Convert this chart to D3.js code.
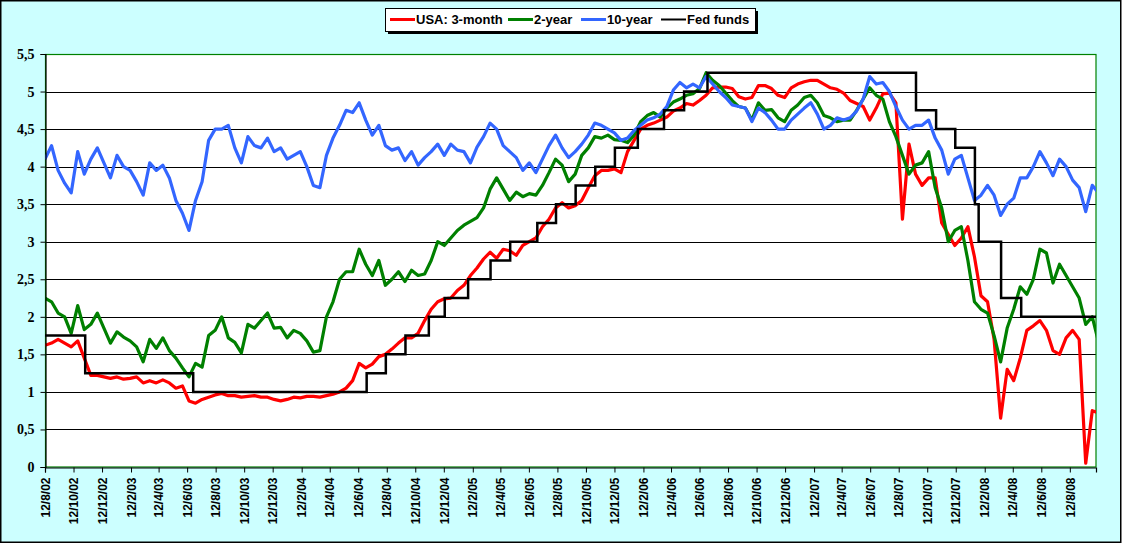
<!DOCTYPE html>
<html>
<head>
<meta charset="utf-8">
<title>USA interest rates</title>
<script src="https://cdnjs.cloudflare.com/ajax/libs/d3/7.8.5/d3.min.js"></script>
<style>
body{ margin:0; padding:0; background:#fff; }
svg{ display:block; }
</style>
</head>
<body>
<div id="chart"></div>
<script>
// samples every 14 days from 12/8/02
var startDate = new Date(2002, 7, 12), endDate = new Date(2008, 9, 7);
var usa3m = [1.62,1.65,1.7,1.65,1.6,1.68,1.45,1.22,1.22,1.2,1.18,1.2,1.17,1.18,1.2,1.12,1.15,1.12,1.16,1.12,
  1.05,1.08,0.88,0.85,0.9,0.93,0.96,0.98,0.95,0.95,0.93,0.94,0.95,0.93,0.93,0.9,0.88,0.9,0.93,0.92,
  0.94,0.94,0.93,0.95,0.97,1.0,1.05,1.15,1.38,1.32,1.37,1.47,1.5,1.57,1.65,1.72,1.72,1.78,1.95,2.1,
  2.2,2.24,2.25,2.35,2.42,2.55,2.65,2.77,2.86,2.78,2.9,2.88,2.82,2.95,3.0,3.05,3.2,3.3,3.45,3.52,
  3.45,3.48,3.55,3.72,3.88,3.95,3.95,3.97,3.92,4.2,4.35,4.5,4.55,4.58,4.62,4.66,4.74,4.78,4.84,4.82,
  4.88,4.95,5.05,5.06,5.06,5.04,4.93,4.9,4.92,5.08,5.08,5.04,4.95,4.92,5.05,5.1,5.13,5.15,5.15,5.1,
  5.05,5.03,4.98,4.88,4.84,4.8,4.62,4.78,4.97,4.98,4.85,3.3,4.3,3.9,3.75,3.85,3.85,3.25,3.1,2.95,
  3.05,3.2,2.8,2.28,2.2,1.7,0.65,1.3,1.15,1.45,1.82,1.88,1.95,1.82,1.55,1.5,1.72,1.82,1.7,0.05,
  0.75,0.72];
var usa2y = [2.25,2.2,2.05,2.0,1.78,2.15,1.83,1.9,2.05,1.85,1.65,1.8,1.73,1.68,1.6,1.4,1.7,1.58,1.72,1.55,
  1.45,1.32,1.2,1.38,1.33,1.75,1.82,2.0,1.72,1.66,1.52,1.9,1.85,1.95,2.05,1.85,1.86,1.72,1.82,1.78,
  1.68,1.53,1.55,2.0,2.2,2.5,2.6,2.6,2.9,2.7,2.55,2.75,2.42,2.5,2.6,2.47,2.62,2.55,2.57,2.75,
  3.0,2.95,3.05,3.15,3.22,3.27,3.32,3.45,3.7,3.85,3.7,3.55,3.66,3.6,3.64,3.62,3.75,3.92,4.1,4.02,
  3.8,3.9,4.15,4.25,4.4,4.38,4.42,4.36,4.35,4.32,4.42,4.6,4.68,4.72,4.66,4.78,4.86,4.9,4.95,4.97,
  5.04,5.25,5.15,5.08,4.98,4.88,4.8,4.78,4.62,4.85,4.75,4.76,4.65,4.6,4.75,4.82,4.92,4.95,4.85,4.68,
  4.65,4.6,4.62,4.62,4.75,4.9,5.05,4.95,4.9,4.6,4.4,4.15,3.9,4.02,4.05,4.2,3.72,3.45,3.0,3.15,
  3.2,2.75,2.2,2.1,2.05,1.75,1.4,1.85,2.1,2.4,2.3,2.5,2.9,2.85,2.45,2.7,2.55,2.4,2.25,1.9,
  2.0,1.65];
var usa10y = [4.1,4.28,3.95,3.78,3.65,4.2,3.9,4.1,4.25,4.05,3.85,4.15,4.0,3.95,3.8,3.62,4.05,3.95,4.02,3.85,
  3.55,3.38,3.15,3.55,3.8,4.35,4.5,4.5,4.55,4.25,4.05,4.4,4.28,4.25,4.38,4.2,4.25,4.1,4.15,4.2,
  4.0,3.75,3.72,4.15,4.38,4.55,4.75,4.72,4.85,4.62,4.42,4.55,4.28,4.22,4.25,4.08,4.2,4.02,4.12,4.2,
  4.3,4.15,4.3,4.22,4.2,4.05,4.26,4.4,4.58,4.5,4.28,4.2,4.12,3.95,4.05,3.92,4.1,4.28,4.42,4.25,
  4.12,4.2,4.3,4.42,4.58,4.55,4.5,4.45,4.35,4.38,4.48,4.55,4.62,4.65,4.7,4.8,5.02,5.12,5.05,5.1,
  5.05,5.2,5.1,5.0,4.92,4.82,4.8,4.78,4.6,4.78,4.72,4.62,4.5,4.5,4.62,4.7,4.78,4.85,4.7,4.5,
  4.55,4.65,4.62,4.65,4.74,4.9,5.2,5.1,5.12,5.0,4.8,4.62,4.5,4.55,4.55,4.62,4.38,4.22,3.9,4.1,
  4.15,3.85,3.55,3.62,3.75,3.62,3.35,3.5,3.58,3.85,3.85,4.0,4.2,4.05,3.88,4.1,4.0,3.82,3.72,3.4,
  3.75,3.65];
var fedDates = ["2002-08-12","2002-11-06","2003-06-25","2004-06-30","2004-08-10","2004-09-21","2004-11-10",
  "2004-12-14","2005-02-02","2005-03-22","2005-05-03","2005-06-30","2005-08-09","2005-09-20","2005-11-01",
  "2005-12-13","2006-01-31","2006-03-28","2006-05-10","2006-06-29","2007-09-18","2007-10-31","2007-12-11",
  "2008-01-22","2008-01-30","2008-03-18","2008-04-30","2008-10-07"];
var fedRates = [1.75,1.25,1.0,1.25,1.5,1.75,2.0,2.25,2.5,2.75,3.0,3.25,3.5,3.75,4.0,4.25,4.5,4.75,5.0,5.25,
  4.75,4.5,4.25,3.5,3.0,2.25,2.0,2.0];
var yTicks = [0,0.5,1,1.5,2,2.5,3,3.5,4,4.5,5,5.5];
var seriesNames = ["USA: 3-month","2-year","10-year","Fed funds"];
var seriesColors = ["#ff0000","#008000","#3366ff","#000000"];

(function(){
  var W = 1122, H = 544, L = 45, R = 1096, T = 54, B = 467;
  var serif = "'Liberation Serif','Times New Roman',serif", sans = "'Liberation Sans',Arial,sans-serif";
  var parse = d3.timeParse("%Y-%m-%d");
  var sampleDates = usa3m.map(function(d, i){ return d3.timeDay.offset(startDate, 14*i); });
  var xTicks = d3.range(37).map(function(k){ return new Date(2002, 7 + 2*k, 12); });

  var x = d3.scaleTime().domain([startDate, endDate]).range([L, R]);
  var y = d3.scaleLinear().domain([0, 5.5]).range([B, T]);

  var svg = d3.select("#chart").append("svg").attr("width", W).attr("height", H);

  svg.append("rect").attr("x", 0.75).attr("y", 0.75).attr("width", W - 2).attr("height", H - 2.5)
    .attr("fill", "#ccffff").attr("stroke", "#000").attr("stroke-width", 1.5);

  svg.append("rect").attr("x", L).attr("y", T).attr("width", R - L).attr("height", B - T).attr("fill", "#fff");

  svg.append("clipPath").attr("id", "plotclip").append("rect")
    .attr("x", L).attr("y", T - 4).attr("width", R - L).attr("height", B - T + 8);

  // gridlines
  svg.append("g").selectAll("line").data(yTicks.filter(function(v){ return v > 0 && v < 5.5; }))
    .enter().append("line")
    .attr("x1", L).attr("x2", R)
    .attr("y1", function(d){ return Math.round(y(d)) + 0.5; })
    .attr("y2", function(d){ return Math.round(y(d)) + 0.5; })
    .attr("stroke", "#000").attr("stroke-width", 1);

  // plot border (green)
  svg.append("rect").attr("x", L + 0.5).attr("y", T + 0.5).attr("width", R - L - 0.5).attr("height", B - T - 0.5)
    .attr("fill", "none").attr("stroke", "#008000").attr("stroke-width", 1.2);

  var g = svg.append("g").attr("clip-path", "url(#plotclip)");
  var line = d3.line().x(function(d){ return x(d[0]); }).y(function(d){ return y(d[1]); });
  [usa3m, usa2y, usa10y].forEach(function(vals, k){
    g.append("path")
      .datum(vals.map(function(v, i){ return [sampleDates[i], v]; }))
      .attr("fill", "none").attr("stroke", seriesColors[k]).attr("stroke-width", 3.2)
      .attr("stroke-linejoin", "round").attr("d", line);
  });
  g.append("path")
    .datum(fedDates.map(function(d, i){ return [parse(d), fedRates[i]]; }))
    .attr("fill", "none").attr("stroke", "#000").attr("stroke-width", 2.5)
    .attr("d", line.curve(d3.curveStepAfter));

  // y axis
  var yAxis = svg.append("g").attr("transform", "translate(" + (L + 0.5) + ",0)")
    .call(d3.axisLeft(y).tickValues(yTicks).tickSize(5).tickPadding(6)
      .tickFormat(function(d){ return String(d).replace(".", ","); }));
  yAxis.attr("font-family", serif).attr("font-size", 14).attr("font-weight", "bold");
  yAxis.select(".domain").attr("stroke", "#000").attr("stroke-width", 1.2);
  yAxis.selectAll(".tick line").attr("stroke", "#000");
  yAxis.selectAll("text").attr("fill", "#000");

  // x axis
  var xAxis = svg.append("g").attr("transform", "translate(0," + (B + 0.5) + ")")
    .call(d3.axisBottom(x).tickValues(xTicks).tickSize(5).tickFormat(d3.timeFormat("%-d/%-m/%y")));
  xAxis.attr("font-family", sans).attr("font-size", 12).attr("font-weight", "bold");
  xAxis.select(".domain").attr("stroke", "#000").attr("stroke-width", 1.2);
  xAxis.selectAll(".tick line").attr("stroke", "#000");
  xAxis.selectAll("text").attr("fill", "#000")
    .attr("transform", "rotate(-90)").attr("x", -10).attr("y", 0).attr("dy", "0.35em")
    .attr("text-anchor", "end");

  // legend
  var lg = svg.append("g").attr("transform", "translate(385,8)")
    .attr("font-family", sans).attr("font-size", 13).attr("font-weight", "bold");
  lg.append("rect").attr("x", 3).attr("y", 3).attr("width", 370).attr("height", 23).attr("fill", "#000");
  lg.append("rect").attr("x", 0.5).attr("y", 0.5).attr("width", 370).attr("height", 23)
    .attr("fill", "#fff").attr("stroke", "#000").attr("stroke-width", 1);
  var legX = [5, 123, 196, 276];
  seriesNames.forEach(function(name, k){
    var it = lg.append("g").attr("transform", "translate(" + legX[k] + ",0)");
    it.append("line").attr("x1", 0).attr("x2", 25).attr("y1", 11.5).attr("y2", 11.5)
      .attr("stroke", seriesColors[k]).attr("stroke-width", k == 3 ? 2 : 3);
    it.append("text").attr("x", 26).attr("y", 16).text(name);
  });
})();
</script>
</body>
</html>
